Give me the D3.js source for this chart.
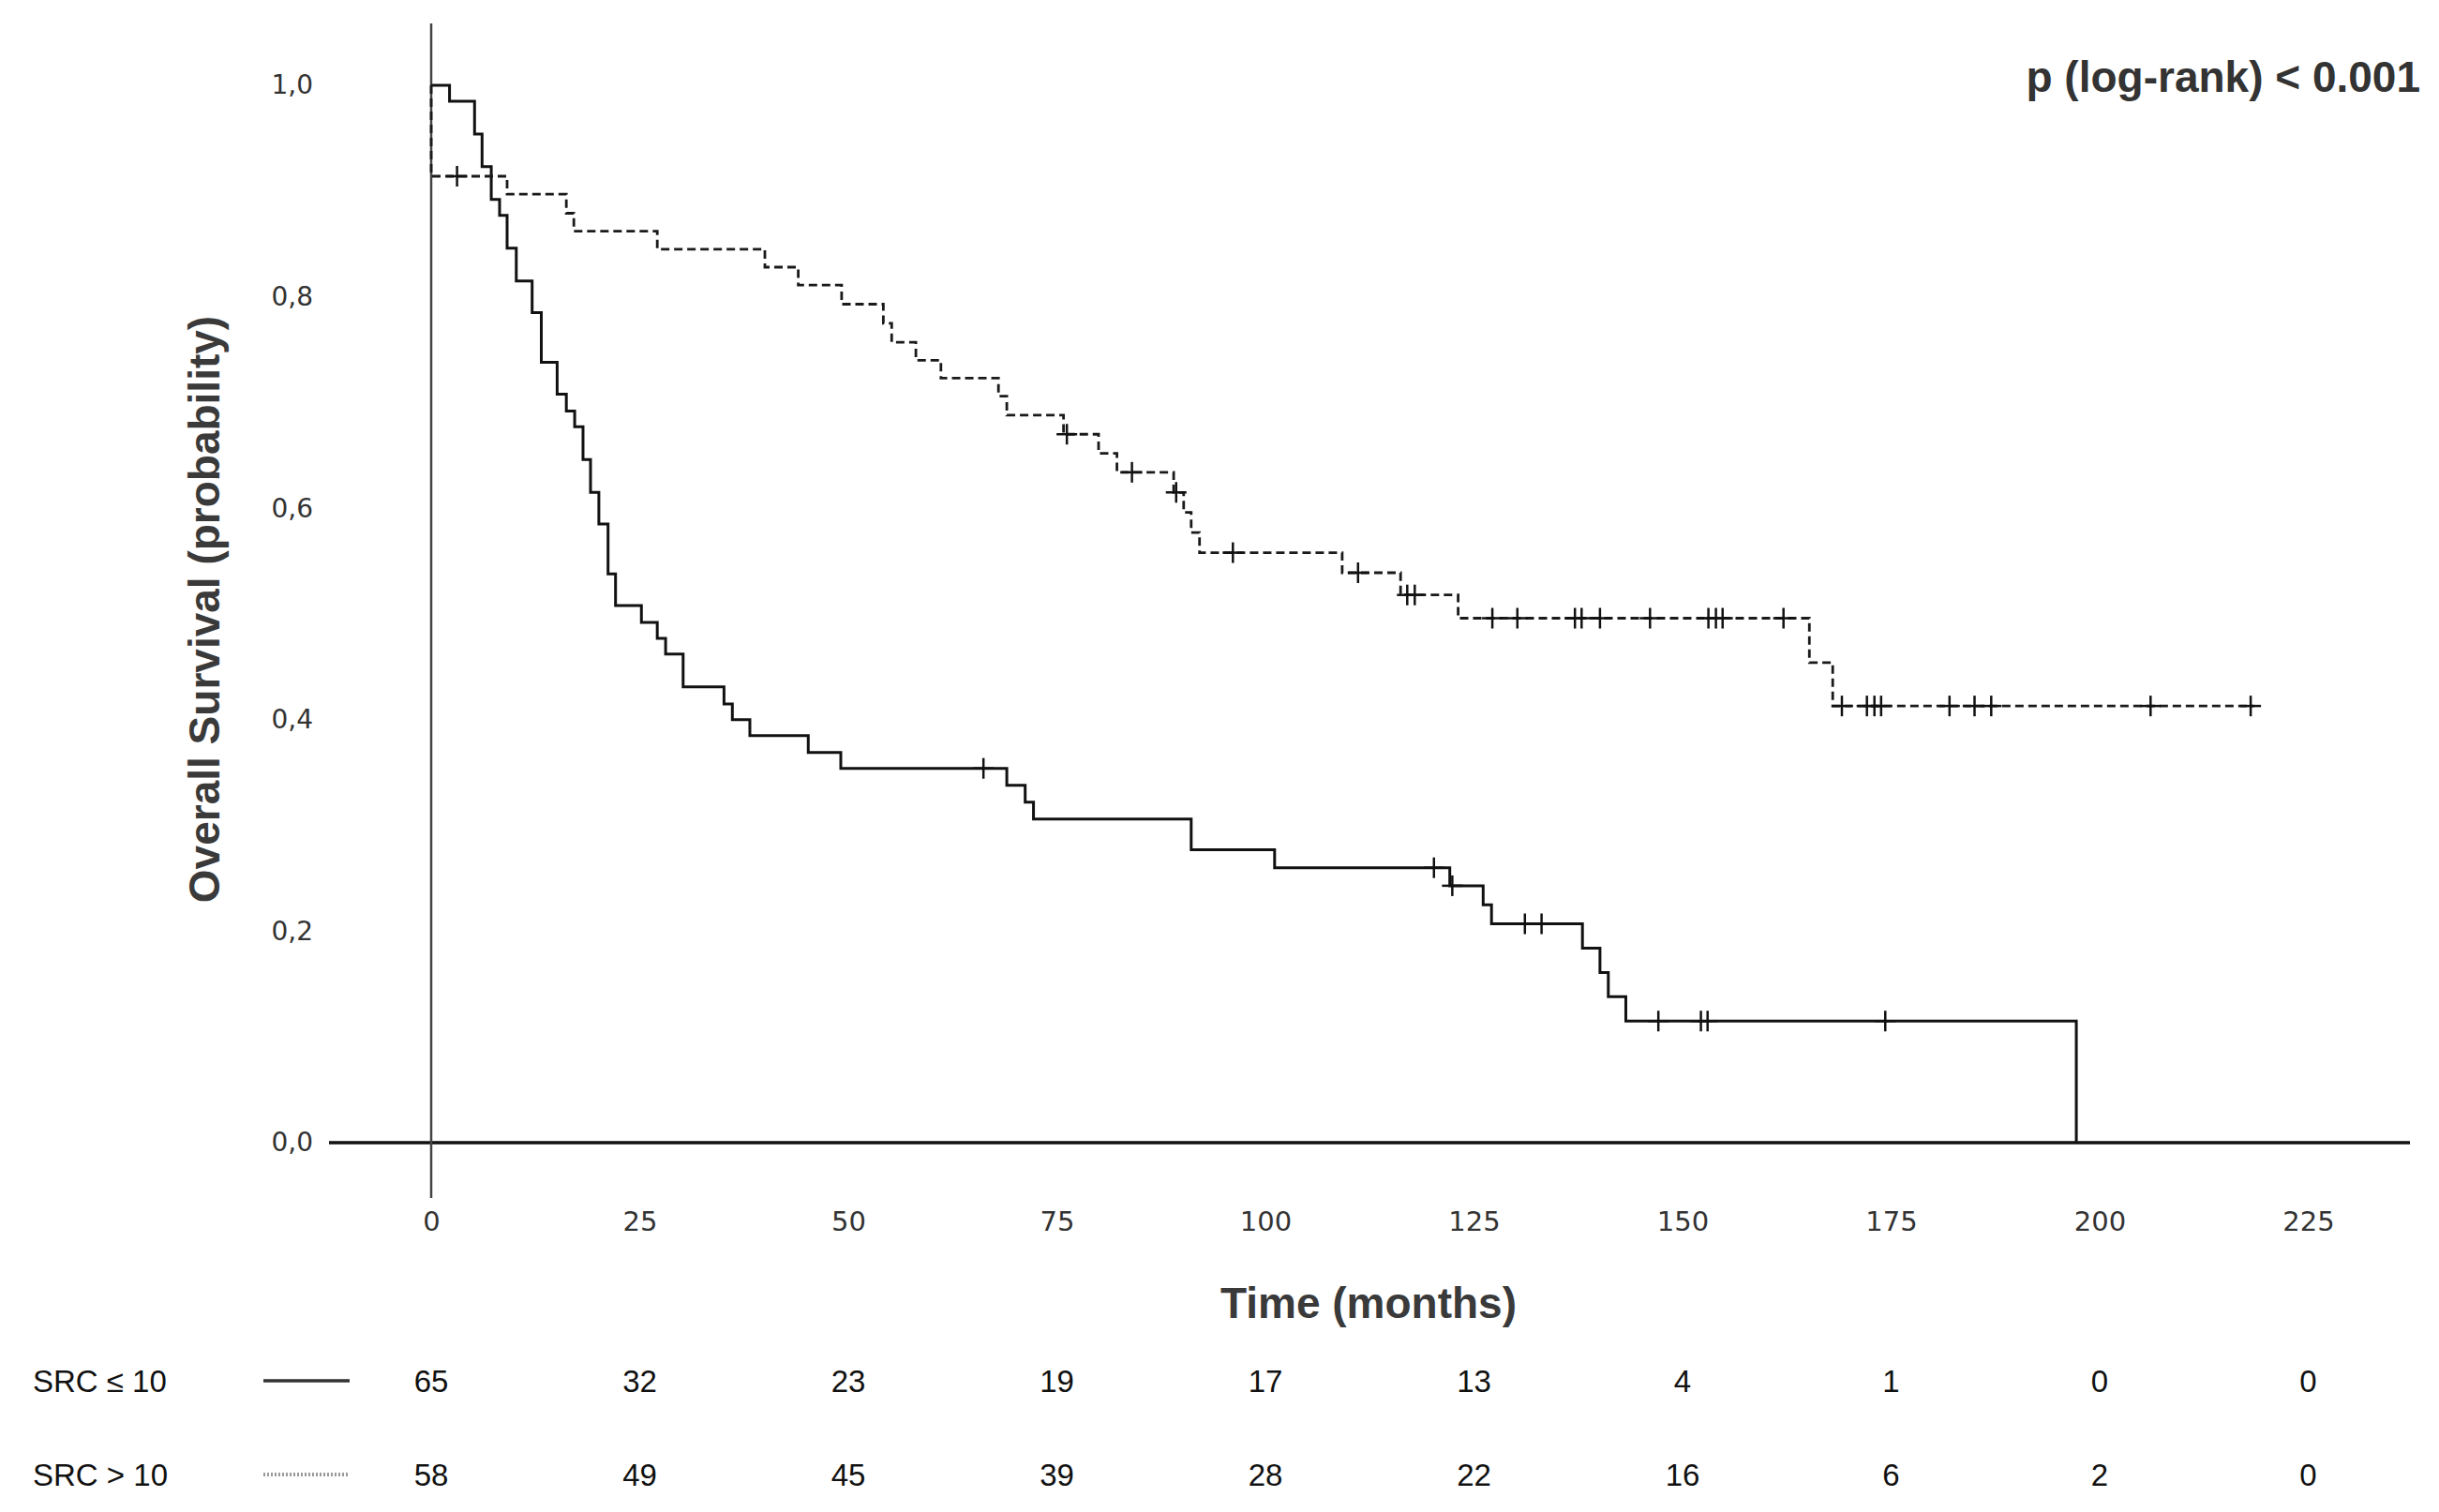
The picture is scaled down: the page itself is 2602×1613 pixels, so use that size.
<!DOCTYPE html>
<html>
<head>
<meta charset="utf-8">
<script src="https://cdn.jsdelivr.net/npm/d3@7"></script>
<style>
  html, body { margin: 0; padding: 0; background: #fff; }
  svg { display: block; }
</style>
</head>
<body>
<div id="chart"></div>
<script>
// Kaplan-Meier: overall survival by SRC group

// steps [time (months), survival after the drop]
const lowSteps = [
  [0, 1.0], [2.2, 0.985], [5.2, 0.954], [6.1, 0.923], [7.2, 0.892], [8.2, 0.877],
  [9.1, 0.846], [10.2, 0.815], [12.1, 0.785], [13.2, 0.738], [15.1, 0.708],
  [16.2, 0.692], [17.2, 0.677], [18.2, 0.646], [19.1, 0.615], [20.1, 0.585],
  [21.2, 0.538], [22.1, 0.508], [25.2, 0.492], [27.1, 0.477], [28.1, 0.462],
  [30.2, 0.431], [35.1, 0.415], [36.1, 0.400], [38.2, 0.385], [45.2, 0.369],
  [49.1, 0.354], [69.0, 0.338], [71.2, 0.322], [72.2, 0.306], [91.1, 0.277],
  [101.1, 0.260], [122.1, 0.243], [126.1, 0.225], [127.1, 0.207], [138.0, 0.184],
  [140.1, 0.161], [141.1, 0.138], [143.2, 0.115], [197.2, 0.0]
];
const lowCensored = [66.2, 120.2, 122.4, 131.1, 133.1, 147.1, 152.2, 153.0, 174.3];

const highSteps = [
  [0, 1.0], [0, 0.914], [9.1, 0.897], [16.2, 0.879], [17.1, 0.862], [27.1, 0.845],
  [40.0, 0.828], [44.0, 0.811], [49.2, 0.793], [54.2, 0.775], [55.2, 0.757],
  [58.1, 0.740], [61.1, 0.723], [68.0, 0.706], [69.0, 0.688], [75.8, 0.670],
  [80.0, 0.652], [82.2, 0.634], [89.0, 0.615], [90.2, 0.596], [91.1, 0.577],
  [92.1, 0.558], [109.2, 0.539], [116.2, 0.518], [123.1, 0.496], [165.2, 0.454],
  [168.0, 0.413], [218.5, 0.413]
];
const highCensored = [3.1, 76.2, 84.0, 89.3, 96.1, 111.1, 117.0, 117.9, 127.2, 130.2,
  137.1, 137.9, 140.1, 146.1, 153.1, 154.0, 154.8, 162.1, 169.1, 172.1, 173.0, 173.8,
  182.0, 185.0, 187.0, 206.1, 218.1];

const timeTicks = [0, 25, 50, 75, 100, 125, 150, 175, 200, 225];
const survTicks = [0, 0.2, 0.4, 0.6, 0.8, 1.0];

const groupNames = ['SRC \u2264 10', 'SRC > 10'];
const riskLow = [65, 32, 23, 19, 17, 13, 4, 1, 0, 0];
const riskHigh = [58, 49, 45, 39, 28, 22, 16, 6, 2, 0];

const W = 2602, H = 1613;
const x = d3.scaleLinear().domain([0, 225]).range([460, 460 + 225 * 8.9]);
const y = d3.scaleLinear().domain([0, 1]).range([1219, 91]);

const svg = d3.select('#chart').append('svg')
  .attr('width', W).attr('height', H)
  .style('font-family', '"Liberation Sans", Arial, sans-serif');

// axes lines
svg.append('line').attr('x1', 351).attr('x2', 2571).attr('y1', y(0)).attr('y2', y(0))
  .attr('stroke', '#111').attr('stroke-width', 3.5);
svg.append('line').attr('x1', x(0)).attr('x2', x(0)).attr('y1', 25).attr('y2', 1278)
  .attr('stroke', '#444').attr('stroke-width', 2.5);

// tick labels via d3 axes
const xAxis = svg.append('g').attr('transform', 'translate(0,1291)')
  .call(d3.axisBottom(x).tickValues(timeTicks).tickSize(0).tickPadding(0));
xAxis.select('.domain').remove();
xAxis.selectAll('text').attr('font-family', '"DejaVu Sans", Verdana, sans-serif')
  .attr('font-size', 29).attr('fill', '#333').attr('dy', '0.75em');

const fmtComma = d => d3.format('.1f')(d).replace('.', ',');
const yAxis = svg.append('g').attr('transform', 'translate(334,0)')
  .call(d3.axisLeft(y).tickValues(survTicks).tickFormat(fmtComma).tickSize(0).tickPadding(0));
yAxis.select('.domain').remove();
yAxis.selectAll('text').attr('font-family', '"DejaVu Sans", Verdana, sans-serif')
  .attr('font-size', 28).attr('fill', '#333');

// titles
svg.append('text').attr('x', 1460).attr('y', 1406).attr('text-anchor', 'middle')
  .attr('font-size', 46).attr('font-weight', 'bold').attr('fill', '#3a3a3a')
  .text('Time (months)');
svg.append('text').attr('transform', 'translate(234,650) rotate(-90)').attr('text-anchor', 'middle')
  .attr('font-size', 46).attr('font-weight', 'bold').attr('fill', '#3a3a3a')
  .text('Overall Survival (probability)');
svg.append('text').attr('x', 2582).attr('y', 98).attr('text-anchor', 'end')
  .attr('font-size', 46).attr('font-weight', 'bold').attr('fill', '#333')
  .text('p (log-rank) < 0.001');

// curves
const line = d3.line().x(d => x(d[0])).y(d => y(d[1])).curve(d3.curveStepAfter);
svg.append('path').attr('d', line(lowSteps)).attr('fill', 'none')
  .attr('stroke', '#111').attr('stroke-width', 3);
svg.append('path').attr('d', line(highSteps)).attr('fill', 'none')
  .attr('stroke', '#1a1a1a').attr('stroke-width', 2.8).attr('stroke-dasharray', '9,5');

// censor marks
function survAt(steps, t) {
  let s = steps[0][1];
  for (const st of steps) { if (st[0] <= t) s = st[1]; else break; }
  return s;
}
function drawCensors(times, steps) {
  const g = svg.append('g').attr('stroke', '#111').attr('stroke-width', 2.5);
  times.forEach(t => {
    const cx = x(t), cy = y(survAt(steps, t));
    g.append('line').attr('x1', cx).attr('x2', cx).attr('y1', cy - 11).attr('y2', cy + 11);
    g.append('line').attr('x1', cx - 11).attr('x2', cx + 11).attr('y1', cy).attr('y2', cy);
  });
}
drawCensors(lowCensored, lowSteps);
drawCensors(highCensored, highSteps);

// number at risk table
const rows = [
  { name: groupNames[0], values: riskLow, y: 1473, dash: null, color: '#333' },
  { name: groupNames[1], values: riskHigh, y: 1573, dash: '2,2', color: '#999' }
];
rows.forEach(r => {
  svg.append('text').attr('x', 35).attr('y', r.y + 12).attr('font-size', 33).attr('fill', '#111')
    .text(r.name);
  svg.append('line').attr('x1', 281).attr('x2', 373).attr('y1', r.y).attr('y2', r.y)
    .attr('stroke', r.color).attr('stroke-width', r.dash ? 4 : 3.5)
    .attr('stroke-dasharray', r.dash);
  svg.append('g').selectAll('text').data(r.values).enter().append('text')
    .attr('x', (d, i) => x(timeTicks[i])).attr('y', r.y + 12)
    .attr('text-anchor', 'middle').attr('font-size', 33).attr('fill', '#111')
    .text(d => d);
});
</script>
</body>
</html>
